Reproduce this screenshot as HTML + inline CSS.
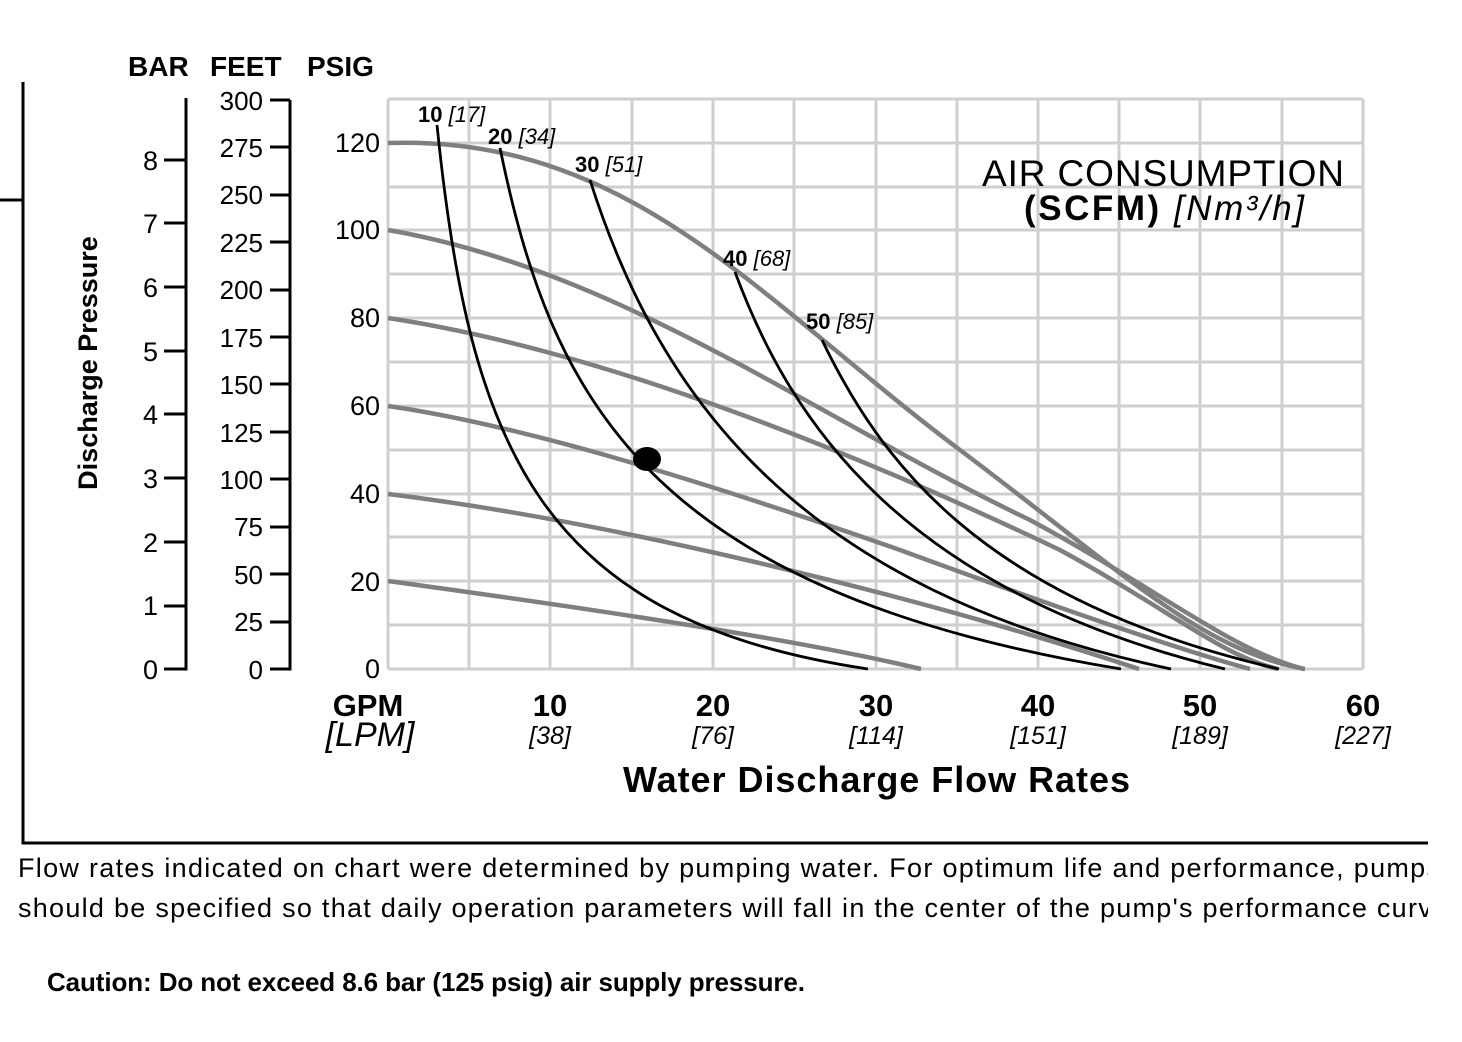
<!DOCTYPE html><html><head><style>body{margin:0;background:#fff}svg{display:block}</style></head><body>
<svg width="1462" height="1042" viewBox="0 0 1462 1042" font-family="Liberation Sans, sans-serif">
<g stroke="#cfcfcf" stroke-width="3">
<line x1="388" y1="99" x2="1363" y2="99"/><line x1="388" y1="143" x2="1363" y2="143"/><line x1="388" y1="187" x2="1363" y2="187"/><line x1="388" y1="230" x2="1363" y2="230"/><line x1="388" y1="274" x2="1363" y2="274"/><line x1="388" y1="318" x2="1363" y2="318"/><line x1="388" y1="362" x2="1363" y2="362"/><line x1="388" y1="406" x2="1363" y2="406"/><line x1="388" y1="450" x2="1363" y2="450"/><line x1="388" y1="494" x2="1363" y2="494"/><line x1="388" y1="537" x2="1363" y2="537"/><line x1="388" y1="581" x2="1363" y2="581"/><line x1="388" y1="625" x2="1363" y2="625"/><line x1="388" y1="669" x2="1363" y2="669"/>
<line x1="388" y1="99" x2="388" y2="669"/><line x1="469" y1="99" x2="469" y2="669"/><line x1="550" y1="99" x2="550" y2="669"/><line x1="632" y1="99" x2="632" y2="669"/><line x1="713" y1="99" x2="713" y2="669"/><line x1="794" y1="99" x2="794" y2="669"/><line x1="876" y1="99" x2="876" y2="669"/><line x1="957" y1="99" x2="957" y2="669"/><line x1="1038" y1="99" x2="1038" y2="669"/><line x1="1119" y1="99" x2="1119" y2="669"/><line x1="1200" y1="99" x2="1200" y2="669"/><line x1="1282" y1="99" x2="1282" y2="669"/><line x1="1363" y1="99" x2="1363" y2="669"/>
</g>
<g fill="none" stroke="#7f7f7f" stroke-width="4.5">
<path d="M388,143 C630,135 760,300 960,450 C1120,570 1200,650 1305,669"/>
<path d="M388,230 C620,270 820,420 1030,520 C1160,590 1230,650 1304,669"/>
<path d="M388,318 C600,350 850,450 1060,550 C1170,610 1220,655 1278,669"/>
<path d="M388,406 C520,425 700,480 900,550 C1050,605 1180,650 1250,669"/>
<path d="M388,494 C600,520 900,590 1139,669"/>
<path d="M388,581 C600,610 800,640 921,669"/>
</g>
<g fill="none" stroke="#000" stroke-width="2.8">
<path d="M437,125 C470,450 540,620 868,669"/>
<path d="M500,148 C550,390 640,590 1121,669"/>
<path d="M590,180 C660,400 800,590 1171,669"/>
<path d="M735,272 C790,420 900,590 1225,669"/>
<path d="M822,340 C880,460 980,600 1279,669"/>
</g>
<ellipse cx="647" cy="459" rx="14" ry="12" fill="#000"/>
<g font-size="22" font-weight="bold">
<text x="418" y="122">10 <tspan font-weight="normal" font-style="italic">[17]</tspan></text>
<text x="488" y="144">20 <tspan font-weight="normal" font-style="italic">[34]</tspan></text>
<text x="575" y="172">30 <tspan font-weight="normal" font-style="italic">[51]</tspan></text>
<text x="723" y="266">40 <tspan font-weight="normal" font-style="italic">[68]</tspan></text>
<text x="806" y="329">50 <tspan font-weight="normal" font-style="italic">[85]</tspan></text>
</g>
<text x="982" y="186" font-size="37" textLength="362">AIR CONSUMPTION</text>
<text x="1024" y="220" font-size="35" textLength="280"><tspan font-weight="bold">(SCFM)</tspan> <tspan font-style="italic">[Nm³/h]</tspan></text>
<g font-size="27" text-anchor="end">
<text x="380" y="678">0</text><text x="380" y="591">20</text><text x="380" y="503">40</text><text x="380" y="415">60</text><text x="380" y="327">80</text><text x="380" y="239">100</text><text x="380" y="152">120</text>
</g>
<g stroke="#000" stroke-width="3" fill="none">
<path d="M186,98 V669 H164"/>
<path d="M186,606 H164 M186,542 H164 M186,478 H164 M186,414 H164 M186,351 H164 M186,287 H164 M186,223 H164 M186,160 H164"/>
<path d="M290,100 H270 M290,100 V669 H270"/>
<path d="M290,622 H270 M290,574 H270 M290,527 H270 M290,479 H270 M290,432 H270 M290,384 H270 M290,337 H270 M290,290 H270 M290,242 H270 M290,195 H270 M290,147 H270"/>
<path d="M23,82 V843 H1428"/><path d="M0,200 H23"/>
</g>
<g font-size="27" text-anchor="end">
<text x="158" y="679">0</text><text x="158" y="615">1</text><text x="158" y="552">2</text><text x="158" y="488">3</text><text x="158" y="424">4</text><text x="158" y="361">5</text><text x="158" y="297">6</text><text x="158" y="233">7</text><text x="158" y="170">8</text>
</g>
<g font-size="26" text-anchor="end">
<text x="263" y="679">0</text><text x="263" y="631">25</text><text x="263" y="584">50</text><text x="263" y="536">75</text><text x="263" y="489">100</text><text x="263" y="442">125</text><text x="263" y="394">150</text><text x="263" y="347">175</text><text x="263" y="299">200</text><text x="263" y="252">225</text><text x="263" y="204">250</text><text x="263" y="157">275</text><text x="263" y="110">300</text>
</g>
<g font-size="28" font-weight="bold"><text x="128" y="76">BAR</text><text x="210" y="76">FEET</text><text x="307" y="76">PSIG</text></g>
<text transform="translate(97,363) rotate(-90)" font-size="27" font-weight="bold" text-anchor="middle">Discharge Pressure</text>
<g font-size="31" font-weight="bold" text-anchor="middle">
<text x="368" y="716">GPM</text><text x="550" y="716">10</text><text x="713" y="716">20</text><text x="876" y="716">30</text><text x="1038" y="716">40</text><text x="1200" y="716">50</text><text x="1363" y="716">60</text>
</g>
<g font-size="25" font-style="italic" text-anchor="middle">
<text x="370" y="746" font-size="34">[LPM]</text><text x="550" y="744">[38]</text><text x="713" y="744">[76]</text><text x="876" y="744">[114]</text><text x="1038" y="744">[151]</text><text x="1200" y="744">[189]</text><text x="1363" y="744">[227]</text>
</g>
<text x="623" y="792" font-size="36" font-weight="bold" textLength="507">Water Discharge Flow Rates</text>
<text x="18" y="877" font-size="27" textLength="1422">Flow rates indicated on chart were determined by pumping water. For optimum life and performance, pumps</text>
<text x="18" y="917" font-size="27" textLength="1430">should be specified so that daily operation parameters will fall in the center of the pump's performance curve</text>
<rect x="1428" y="850" width="40" height="80" fill="#fff"/>
<text x="47" y="991" font-size="26" font-weight="bold" textLength="758">Caution: Do not exceed 8.6 bar (125 psig) air supply pressure.</text>
</svg>
</body></html>
